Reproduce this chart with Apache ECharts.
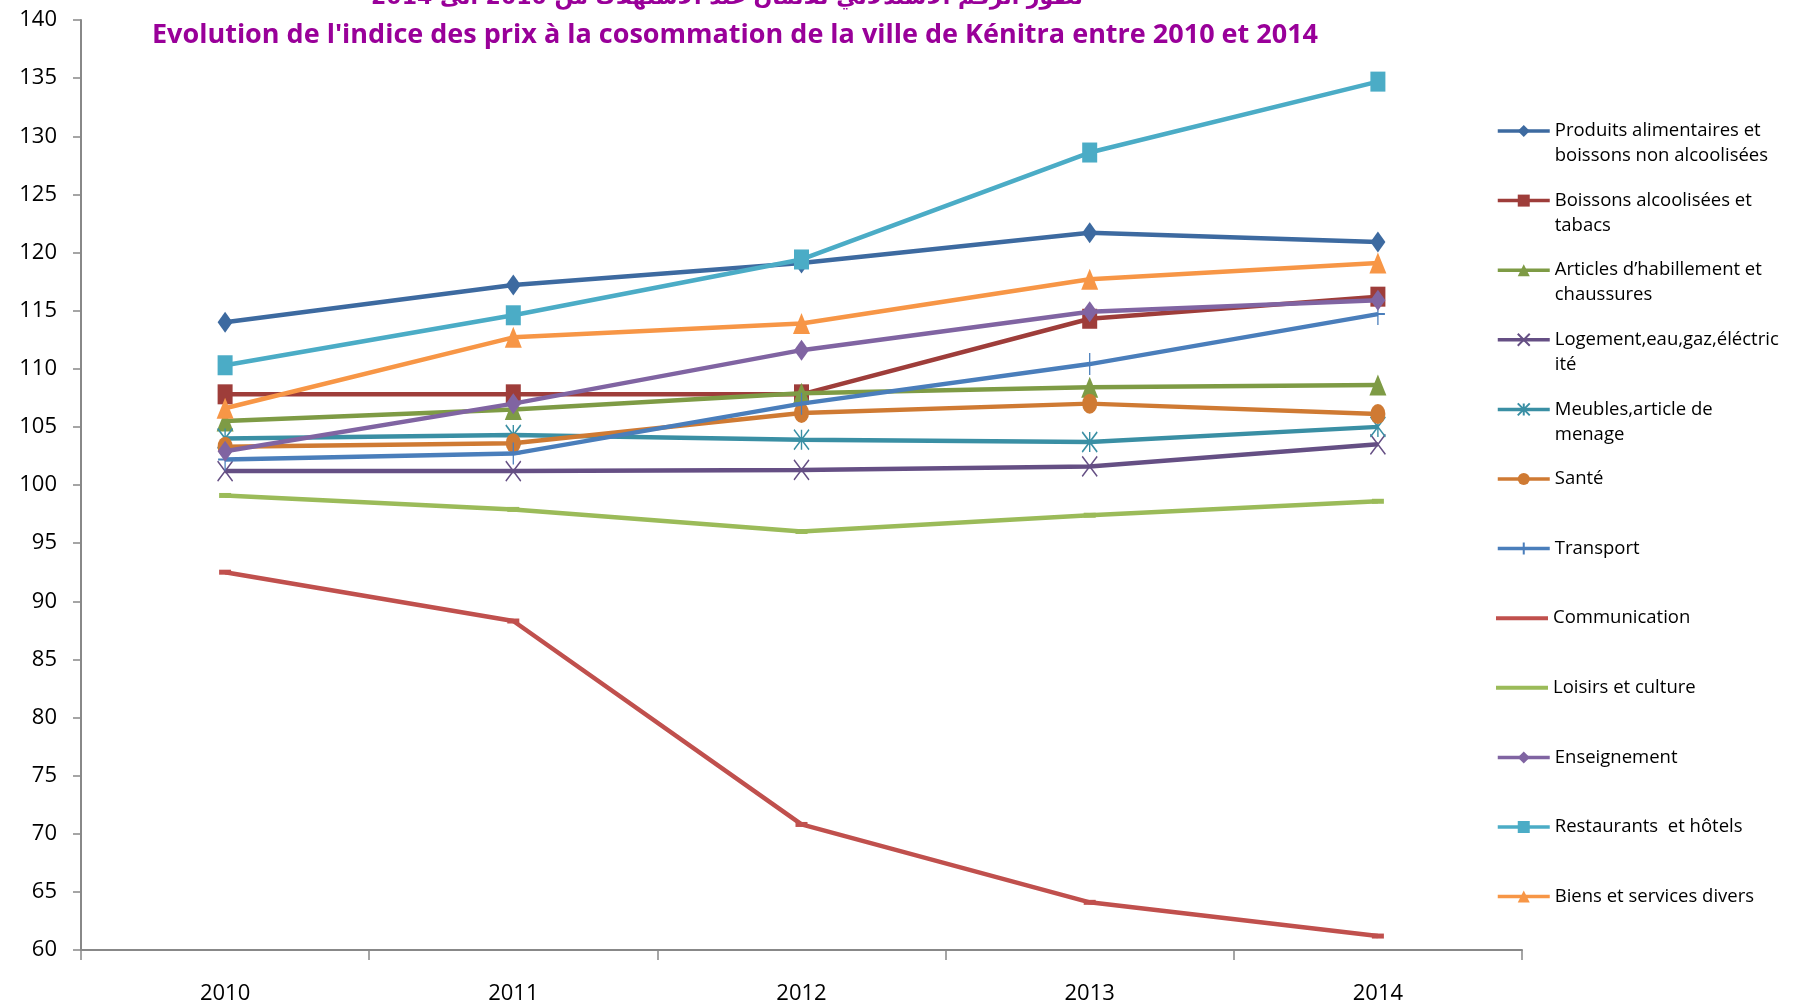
<!DOCTYPE html>
<html>
<head>
<meta charset="utf-8">
<script src="https://cdn.jsdelivr.net/npm/echarts@6/dist/echarts.min.js"></script>
<style>
  html, body { margin: 0; padding: 0; background: #fff; }
  #chart { width: 1798px; height: 1006px; }
</style>
</head>
<body>
<div id="chart"></div>
<script>
const years = ['2010', '2011', '2012', '2013', '2014'];

const names = [
  'Produits alimentaires et boissons non alcoolisées',
  'Boissons alcoolisées et tabacs',
  'Articles d’habillement et chaussures',
  'Logement,eau,gaz,éléctricité',
  'Meubles,article de menage',
  'Santé',
  'Transport',
  'Communication',
  'Loisirs et culture',
  'Enseignement',
  'Restaurants  et hôtels',
  'Biens et services divers'
];

// legend text as it wraps in the picture
const legendLines = [
  ['Produits alimentaires et', 'boissons non alcoolisées'],
  ['Boissons alcoolisées et', 'tabacs'],
  ['Articles d’habillement et', 'chaussures'],
  ['Logement,eau,gaz,éléctric', 'ité'],
  ['Meubles,article de', 'menage'],
  ['Santé'],
  ['Transport'],
  ['Communication'],
  ['Loisirs et culture'],
  ['Enseignement'],
  ['Restaurants  et hôtels'],
  ['Biens et services divers']
];

const produits = [114.0, 117.2, 119.1, 121.7, 120.9];
const boissons = [107.8, 107.8, 107.8, 114.3, 116.2];
const articles = [105.5, 106.5, 107.9, 108.4, 108.6];
const logement = [101.2, 101.2, 101.3, 101.6, 103.5];
const meubles = [104.0, 104.3, 103.9, 103.7, 105.0];
const sante = [103.3, 103.6, 106.2, 107.0, 106.1];
const transport = [102.2, 102.7, 107.0, 110.4, 114.7];
const communication = [92.5, 88.3, 70.8, 64.1, 61.2];
const loisirs = [99.1, 97.9, 96.0, 97.4, 98.6];
const enseignement = [102.9, 107.0, 111.6, 114.9, 115.9];
const restaurants = [110.3, 114.6, 119.4, 128.6, 134.7];
const biens = [106.6, 112.7, 113.9, 117.7, 119.1];

const values = [produits, boissons, articles, logement, meubles, sante,
  transport, communication, loisirs, enseignement, restaurants, biens];

const colors = ['#3D6AA0', '#9E3D3A', '#7E9B45', '#654F84', '#3A8FA4', '#CF7A33',
  '#4A7EBB', '#C0504D', '#9BBB59', '#8064A2', '#4BACC6', '#F79646'];

const xSym = 'path://M0,0L14,20M14,0L0,20';
const starSym = 'path://M0,0L14,20M14,0L0,20M7,0L7,20';
const plusSym = 'path://M7,0L7,20M0,10L14,10';
const dashSym = 'path://M0,0H12V5H0Z';
const barIcon = 'path://M0,0H52V4H0Z';

const symbols = ['diamond', 'rect', 'triangle', xSym, starSym, 'circle',
  plusSym, dashSym, dashSym, 'diamond', 'rect', 'triangle'];
const symbolSizes = [[15, 21], [15, 20], [17, 21], [15, 20], [15, 20], [15, 20],
  [14, 22], [12, 5], [12, 5], [15, 21], [15, 20], [17, 21]];
const strokeOnly = [false, false, false, true, true, false, true, false, false, false, false, false];

const FONT = '"Open Sans", "Noto Sans", sans-serif';
const TITLE_COLOR = '#990099';

const chart = echarts.init(document.getElementById('chart'));

const series = names.map((name, i) => ({
  name,
  type: 'line',
  data: values[i],
  symbol: symbols[i],
  symbolSize: symbolSizes[i],
  showAllSymbol: true,
  lineStyle: { color: colors[i], width: 4.5 },
  itemStyle: strokeOnly[i]
    ? { color: colors[i], borderColor: colors[i], borderWidth: 1.6 }
    : { color: colors[i], borderWidth: 0 },
  emphasis: { disabled: true },
  animation: false,
  z: 2 + i
}));

const lineH = 25;
const legends = names.map((name, i) => {
  const lines = legendLines[i];
  const label = lines.length > 1 ? '\n' + lines.join('\n') : lines[0];
  const half = lines.length > 1 ? 1.5 : 0.5;
  const leg = {
    data: [name],
    left: 1496,
    top: 131 + i * 69.6 - half * lineH,
    padding: 0,
    itemWidth: 52,
    itemHeight: 15,
    formatter: () => label,
    lineStyle: { width: 3.5 },
    textStyle: { fontFamily: FONT, fontSize: 18.5, lineHeight: lineH, color: '#000' }
  };
  if (symbols[i] === dashSym) leg.icon = barIcon;
  return leg;
});

chart.setOption({
  backgroundColor: '#fff',
  animation: false,
  title: [
    {
      text: 'تطور الرقم الاستدلالي للأثمان عند الاستهلاك من 2010 الى 2014',
      left: 727,
      textAlign: 'center',
      top: -13,
      padding: 0,
      textStyle: { fontFamily: '"DejaVu Sans", sans-serif', fontSize: 22, fontWeight: 'bold', color: TITLE_COLOR }
    },
    {
      text: "Evolution de l'indice des prix à la cosommation de la ville de Kénitra entre 2010 et 2014",
      left: 735,
      textAlign: 'center',
      top: 22,
      padding: 0,
      textStyle: { fontFamily: FONT, fontSize: 27, fontWeight: 'bold', color: TITLE_COLOR }
    }
  ],
  legend: legends,
  grid: { left: 81, right: 276, top: 20, bottom: 56 },
  xAxis: {
    type: 'category',
    data: years,
    boundaryGap: true,
    axisLine: { lineStyle: { color: '#888', width: 2 } },
    axisTick: { show: true, length: 10, lineStyle: { color: '#888', width: 1.5 } },
    axisLabel: { fontFamily: FONT, fontSize: 22, color: '#000', margin: 33 },
    splitLine: { show: false }
  },
  yAxis: {
    type: 'value',
    min: 60,
    max: 140,
    interval: 5,
    axisLine: { show: true, lineStyle: { color: '#888', width: 2 } },
    axisTick: { show: true, length: 8, lineStyle: { color: '#888', width: 1.5 } },
    axisLabel: { fontFamily: FONT, fontSize: 22, color: '#000', margin: 24 },
    splitLine: { show: false }
  },
  series
});
</script>
</body>
</html>
